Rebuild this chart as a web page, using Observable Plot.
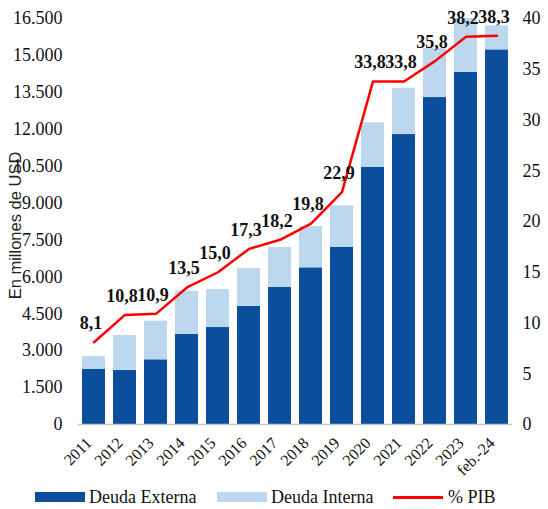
<!DOCTYPE html>
<html>
<head>
<meta charset="utf-8">
<script src="https://cdn.jsdelivr.net/npm/d3@7"></script>
<script src="https://cdn.jsdelivr.net/npm/@observablehq/plot@0.6"></script>
<style>
  body { margin: 0; background: #fff; }
  #wrap { position: relative; width: 548px; height: 509px; }
  #chart svg text { font-family: "Liberation Serif", "Times New Roman", serif; }
  #chart svg text.ylab { font-family: "Liberation Sans", Arial, sans-serif; }
  #legend { position: absolute; left: 0; top: 486px; width: 548px; height: 22px;
    font-family: "Liberation Serif", "Times New Roman", serif; font-size: 18px; color: #111; }
  .sw { display: inline-block; width: 50px; height: 10px; margin-right: 4px; }
  .ln { display: inline-block; width: 50px; height: 3px; background: #ff0000; margin-right: 5px; }
  .it { position: absolute; top: 0; height: 22px; display: flex; align-items: center; }
</style>
</head>
<body>
<div id="wrap">
  <div id="chart"></div>
  <div id="legend"></div>
</div>
<script>
const years = ["2011","2012","2013","2014","2015","2016","2017","2018","2019","2020","2021","2022","2023","feb.-24"];
const deudaExterna = [2235, 2194, 2629, 3657, 3941, 4795, 5567, 6367, 7205, 10455, 11784, 13287, 14315, 15225];
const deudaInterna = [528, 1422, 1569, 1760, 1545, 1544, 1625, 1678, 1681, 1804, 1881, 1991, 2185, 975];
const pctPIB = [8.1, 10.8, 10.9, 13.5, 15.0, 17.3, 18.2, 19.8, 22.9, 33.8, 33.8, 35.8, 38.2, 38.3];
const leftTicks = [0, 1500, 3000, 4500, 6000, 7500, 9000, 10500, 12000, 13500, 15000, 16500];
const rightTicks = [0, 5, 10, 15, 20, 25, 30, 35, 40];
const seriesNames = ["Deuda Externa", "Deuda Interna", "% PIB"];
const yLabel = "En millones de USD";

const colors = {ext: "#0B4F9C", int: "#BDD7EE", line: "#FF0000"};
const k = 16500 / 40;
const locale = d3.formatLocale({decimal: ",", thousands: ".", grouping: [3], currency: ["", ""]});
const fmtThousands = locale.format(",");
const fmtPct = locale.format(",.1f");

const bars = [];
years.forEach((y, i) => {
  bars.push({year: y, serie: seriesNames[0], value: deudaExterna[i]});
  bars.push({year: y, serie: seriesNames[1], value: deudaInterna[i]});
});
const line = years.map((y, i) => ({year: y, pct: pctPIB[i]}));

const chart = Plot.plot({
  width: 548,
  height: 484,
  marginTop: 18,
  marginBottom: 60,
  marginLeft: 78,
  marginRight: 36,
  style: "font-family: 'Liberation Serif', 'Times New Roman', serif; font-size: 18px; color: #111; background: #fff;",
  x: {domain: years, paddingInner: 0.27, paddingOuter: 0.11, label: null},
  y: {domain: [0, 16500], label: null},
  color: {domain: seriesNames.slice(0, 2), range: [colors.ext, colors.int]},
  marks: [
    Plot.barY(bars, Plot.stackY({x: "year", y: "value", fill: "serie", order: seriesNames.slice(0, 2)})),
    Plot.ruleY([0], {stroke: "#c8c8c8", strokeWidth: 1.5}),
    Plot.line(line, {x: "year", y: d => d.pct * k, stroke: colors.line, strokeWidth: 2.5}),
    Plot.text(line, {x: "year", y: d => d.pct * k, text: d => fmtPct(d.pct), dy: -19, dx: -3,
      fontWeight: "bold", fontSize: 18, fill: "#111"}),
    Plot.axisY({anchor: "left", ticks: leftTicks, tickFormat: fmtThousands, tickSize: 0, tickPadding: 16, label: null, fontSize: 18, fill: "#111"}),
    Plot.axisY({anchor: "right", ticks: rightTicks.map(t => t * k), tickFormat: d => Math.round(d / k), tickSize: 0, tickPadding: 10, label: null, fontSize: 18, fill: "#111"}),
    Plot.axisX({tickRotate: -45, tickSize: 0, tickPadding: 16, dx: -5, fontSize: 16, label: null, fill: "#111"}),
    Plot.text([yLabel], {frameAnchor: "left", textAnchor: "middle", rotate: -90, dx: -63, dy: 4, fontSize: 16.5, fill: "#222", className: "ylab"})
  ]
});
document.getElementById("chart").appendChild(chart);
// the y-axis title is sans-serif in the reference
chart.querySelectorAll("g.ylab").forEach(g => g.querySelectorAll("text").forEach(t => t.setAttribute("class", "ylab")));

const legend = document.getElementById("legend");
const items = [
  {name: seriesNames[0], left: 35, kind: "sw", color: colors.ext},
  {name: seriesNames[1], left: 217, kind: "sw", color: colors.int},
  {name: seriesNames[2], left: 393, kind: "ln", color: colors.line}
];
items.forEach(it => {
  const d = document.createElement("div");
  d.className = "it";
  d.style.left = it.left + "px";
  const s = document.createElement("span");
  s.className = it.kind;
  if (it.kind === "sw") s.style.background = it.color;
  d.appendChild(s);
  const t = document.createElement("span");
  t.textContent = it.name;
  d.appendChild(t);
  legend.appendChild(d);
});
</script>
</body>
</html>
